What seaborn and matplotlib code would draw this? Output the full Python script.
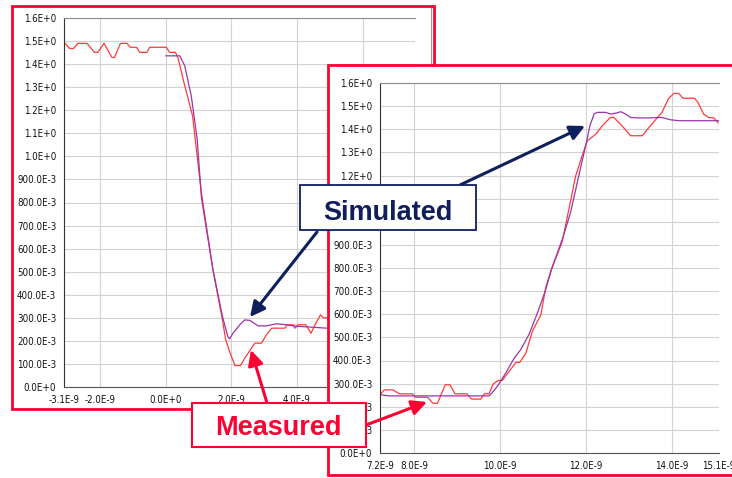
import matplotlib
matplotlib.use("Agg")
import matplotlib.pyplot as plt
import seaborn as sns
import pandas as pd
from matplotlib.patches import Rectangle, FancyArrowPatch
from matplotlib.lines import Line2D

# ---------------- data (time in ns, voltage in V) ----------------
left_meas_t = [-3.1, -2.93, -2.81, -2.68, -2.40, -2.17, -2.07, -1.88, -1.64, -1.56, -1.38,
               -1.18, -1.08, -0.89, -0.79, -0.57, -0.49, 0.02, 0.12, 0.30, 0.38, 0.53, 0.82,
               1.09, 1.44, 1.73, 1.83, 1.95, 2.11, 2.28, 2.41, 2.51, 2.72, 2.92, 3.07, 3.23,
               3.63, 3.70, 3.89, 3.94, 4.04, 4.27, 4.43, 4.58, 4.72, 4.80, 4.95]
left_meas_v = [1.494, 1.468, 1.468, 1.49, 1.49, 1.451, 1.451, 1.49, 1.429, 1.429, 1.49,
               1.49, 1.473, 1.473, 1.451, 1.451, 1.473, 1.473, 1.451, 1.451, 1.425, 1.335, 1.175,
               0.84, 0.509, 0.291, 0.204, 0.153, 0.093, 0.093, 0.125, 0.146, 0.19, 0.19, 0.226, 0.255,
               0.255, 0.27, 0.27, 0.255, 0.27, 0.27, 0.233, 0.277, 0.313, 0.30, 0.30]

left_sim_t = [0.0, 0.43, 0.58, 0.78, 0.96, 1.09, 1.44, 1.73, 1.90, 1.95, 2.05, 2.26, 2.41,
              2.56, 2.82, 3.07, 3.38, 3.69, 3.89, 4.14, 4.50, 4.91]
left_sim_v = [1.436, 1.436, 1.393, 1.262, 1.074, 0.82, 0.509, 0.306, 0.216, 0.209, 0.233, 0.27,
              0.291, 0.289, 0.265, 0.265, 0.274, 0.27, 0.265, 0.262, 0.259, 0.255]

right_meas_t = [7.2, 7.30, 7.50, 7.65, 7.95, 8.02, 8.31, 8.43, 8.54, 8.72, 8.83, 8.95, 9.22,
                9.34, 9.55, 9.63, 9.74, 9.84, 9.96, 10.05, 10.21, 10.37, 10.46, 10.60, 10.75,
                10.95, 11.06, 11.18, 11.45, 11.76, 11.91, 12.03, 12.23, 12.38, 12.57, 12.65,
                12.84, 13.04, 13.31, 13.50, 13.77, 13.93, 14.05, 14.16, 14.26, 14.53, 14.61,
                14.74, 14.86, 14.98, 15.08]
right_meas_v = [0.252, 0.273, 0.273, 0.256, 0.256, 0.241, 0.241, 0.215, 0.215, 0.295, 0.295,
                0.256, 0.256, 0.233, 0.233, 0.256, 0.256, 0.299, 0.314, 0.314, 0.353, 0.392,
                0.392, 0.432, 0.526, 0.598, 0.714, 0.786, 0.916, 1.198, 1.285, 1.35, 1.379,
                1.415, 1.451, 1.451, 1.415, 1.372, 1.372, 1.415, 1.473, 1.534, 1.555, 1.555,
                1.534, 1.534, 1.516, 1.466, 1.451, 1.449, 1.427]

right_sim_t = [7.2, 7.42, 9.74, 9.84, 9.96, 10.13, 10.33, 10.48, 10.67, 10.87, 11.05, 11.22,
               11.45, 11.64, 11.84, 12.01, 12.09, 12.19, 12.26, 12.46, 12.57, 12.71, 12.81,
               12.92, 13.04, 13.19, 13.47, 13.77, 13.97, 14.16, 15.1]
right_sim_v = [0.252, 0.247, 0.247, 0.266, 0.295, 0.346, 0.411, 0.447, 0.512, 0.606, 0.70,
               0.808, 0.925, 1.039, 1.205, 1.343, 1.415, 1.466, 1.473, 1.473, 1.466, 1.47,
               1.476, 1.466, 1.451, 1.449, 1.449, 1.451, 1.441, 1.437, 1.437]

y_ticks = [0.0, 0.1, 0.2, 0.3, 0.4, 0.5, 0.6, 0.7, 0.8, 0.9, 1.0, 1.1, 1.2, 1.3, 1.4, 1.5, 1.6]
y_tick_labels = ["0.0E+0", "100.0E-3", "200.0E-3", "300.0E-3", "400.0E-3", "500.0E-3",
                 "600.0E-3", "700.0E-3", "800.0E-3", "900.0E-3", "1.0E+0", "1.1E+0",
                 "1.2E+0", "1.3E+0", "1.4E+0", "1.5E+0", "1.6E+0"]
left_x_ticks = [-3.1, -2.0, 0.0, 2.0, 4.0, 6.0, 7.6]
left_x_labels = ["-3.1E-9", "-2.0E-9", "0.0E+0", "2.0E-9", "4.0E-9", "6.0E-9", "7.6E-9"]
right_x_ticks = [7.2, 8.0, 10.0, 12.0, 14.0, 15.1]
right_x_labels = ["7.2E-9", "8.0E-9", "10.0E-9", "12.0E-9", "14.0E-9", "15.1E-9"]

label_sim = "Simulated"
label_meas = "Measured"

# ---------------- style ----------------
sns.set_style("white")
plt.rcParams["font.family"] = ["Liberation Sans", "DejaVu Sans"]

RED = "#ff0033"
NAVY = "#0e1f5c"
MEAS_C = "#ff3a3a"
SIM_C = "#9a35a8"
GRID_C = "#d2d2d2"

W, H = 732, 478
fig = plt.figure(figsize=(W / 100, H / 100), dpi=100)
fig.patch.set_facecolor("white")


def fx(x):
    return x / W


def fy(y):
    return 1 - y / H


def rect_px(x0, y0, x1, y1):
    return [x0 / W, 1 - y1 / H, (x1 - x0) / W, (y1 - y0) / H]


tick_font = dict(family=["Liberation Sans Narrow", "DejaVu Sans"], stretch="condensed", size=7.0)


def style_axes(ax, xt, xl, xlim):
    ax.set_facecolor("white")
    ax.set_xlim(*xlim)
    ax.set_ylim(0, 1.6)
    ax.set_xticks(xt)
    ax.set_xticklabels(xl)
    ax.set_yticks(y_ticks)
    ax.set_yticklabels(y_tick_labels)
    for lab in ax.get_xticklabels() + ax.get_yticklabels():
        lab.set_fontproperties(matplotlib.font_manager.FontProperties(**tick_font))
        lab.set_color("#111111")
    ax.tick_params(axis="both", direction="out", length=3.5, width=0.8, color="#333333", pad=2)
    ax.grid(True, color=GRID_C, linewidth=0.8)
    ax.set_axisbelow(True)
    ax.spines["left"].set_color("#333333")
    ax.spines["left"].set_linewidth(0.8)
    ax.spines["bottom"].set_color("#555555")
    ax.spines["bottom"].set_linewidth(0.8)
    ax.spines["top"].set_color("#8c8c8c")
    ax.spines["top"].set_linewidth(0.8)
    ax.spines["right"].set_visible(False)
    ax.set_xlabel("")
    ax.set_ylabel("")


# left panel
fig.add_artist(Rectangle((fx(12), fy(409)), (434 - 12) / W, (409 - 6) / H,
                         transform=fig.transFigure, facecolor="white", edgecolor=RED,
                         linewidth=2.0, zorder=1))
fig.add_artist(Line2D([fx(431.5), fx(431.5)], [fy(8), fy(66)], transform=fig.transFigure,
                      color="#9a9a9a", linewidth=0.8, zorder=1.5))
ax1 = fig.add_axes(rect_px(64, 18, 415, 387))
ax1.set_zorder(2)
sns.lineplot(x=left_meas_t, y=left_meas_v, ax=ax1, color=MEAS_C, linewidth=0.9,
             estimator=None, sort=False)
sns.lineplot(x=left_sim_t, y=left_sim_v, ax=ax1, color=SIM_C, linewidth=0.9,
             estimator=None, sort=False)
style_axes(ax1, left_x_ticks, left_x_labels, (-3.1, 7.6))

# right panel
fig.add_artist(Rectangle((fx(328), fy(475)), (745 - 328) / W, (475 - 65) / H,
                         transform=fig.transFigure, facecolor="white", edgecolor=RED,
                         linewidth=2.0, zorder=3))
ax2 = fig.add_axes(rect_px(380, 83, 719, 453))
ax2.set_zorder(4)
sns.lineplot(x=right_meas_t, y=right_meas_v, ax=ax2, color=MEAS_C, linewidth=0.9,
             estimator=None, sort=False)
sns.lineplot(x=right_sim_t, y=right_sim_v, ax=ax2, color=SIM_C, linewidth=0.9,
             estimator=None, sort=False)
style_axes(ax2, right_x_ticks, right_x_labels, (7.2, 15.1))


# annotations
def arrow(p0, p1, color):
    a = FancyArrowPatch((fx(p0[0]), fy(p0[1])), (fx(p1[0]), fy(p1[1])),
                        transform=fig.transFigure, arrowstyle="-|>,head_length=0.9,head_width=0.45",
                        mutation_scale=10, linewidth=2.2, color=color, shrinkA=0, shrinkB=0,
                        zorder=6)
    fig.add_artist(a)


arrow((317, 232), (250, 317), NAVY)
arrow((460, 185), (585, 126), NAVY)
arrow((267, 403), (251, 350), RED)
arrow((366, 425), (427, 402), RED)

fig.add_artist(Rectangle((fx(300), fy(230)), (476 - 300) / W, (230 - 185) / H,
                         transform=fig.transFigure, facecolor="white", edgecolor=NAVY,
                         linewidth=1.3, zorder=7))
fig.text(fx(388), fy(219.5), label_sim, ha="center", va="baseline", fontsize=19.5,
         fontweight="bold", color=NAVY, zorder=8)

fig.add_artist(Rectangle((fx(192), fy(447)), (366 - 192) / W, (447 - 403) / H,
                         transform=fig.transFigure, facecolor="white", edgecolor=RED,
                         linewidth=1.5, zorder=7))
fig.text(fx(278), fy(435), label_meas, ha="center", va="baseline", fontsize=19.5,
         fontweight="bold", color=RED, zorder=8)

fig.savefig("out.png", dpi=100, facecolor="white")
